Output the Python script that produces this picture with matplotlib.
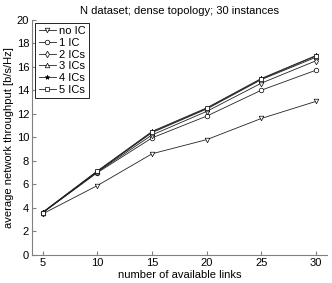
import matplotlib
matplotlib.use("Agg")
import matplotlib.pyplot as plt

plt.rcParams["font.family"] = ["Liberation Sans", "DejaVu Sans"]
plt.rcParams["font.size"] = 8

links = [5, 10, 15, 20, 25, 30]
no_ic = [3.5, 5.9, 8.6, 9.8, 11.6, 13.05]
ic1 = [3.6, 7.0, 9.95, 11.8, 14.0, 15.7]
ic2 = [3.6, 7.05, 10.2, 12.2, 14.6, 16.5]
ic3 = [3.6, 7.1, 10.4, 12.4, 14.9, 16.8]
ic4 = [3.65, 7.15, 10.5, 12.5, 15.0, 16.95]
ic5 = [3.6, 7.1, 10.45, 12.45, 14.95, 16.9]

series = [("no IC", no_ic, "v"), ("1 IC", ic1, "o"), ("2 ICs", ic2, "d"),
          ("3 ICs", ic3, "^"), ("4 ICs", ic4, "*"), ("5 ICs", ic5, "s")]

fig = plt.figure(figsize=(3.32, 2.83), dpi=100)
ax = fig.add_axes([0.096, 0.099, 0.889, 0.832])

for name, ys, m in series:
    mfc = "black" if m == "*" else "white"
    ax.plot(links, ys, color="#222222", lw=0.6, marker=m, ms=3.3, mfc=mfc,
            mec="black", mew=0.5, label=name)

ax.set_xlim(4, 31)
ax.set_ylim(0, 20)
ax.set_xticks(links)
ax.set_yticks(range(0, 21, 2))
ax.tick_params(direction="in", length=3, color="gray", width=0.8, pad=2)
for s in ["top", "right"]:
    ax.spines[s].set_visible(False)
for s in ["left", "bottom"]:
    ax.spines[s].set_color("gray")
    ax.spines[s].set_linewidth(0.8)

ax.set_xlabel("number of available links", labelpad=1.5)
ax.set_ylabel("average network throughput [b/s/Hz]", labelpad=2)
ax.set_title("N dataset; dense topology; 30 instances", fontsize=8, pad=4)

leg = ax.legend(loc="upper left", bbox_to_anchor=(0.0, 1.0), fancybox=False,
                edgecolor="black", framealpha=1, handlelength=1.6,
                handletextpad=0.2, labelspacing=0.15, borderpad=0.3,
                borderaxespad=0.3)
leg.get_frame().set_linewidth(0.6)

fig.savefig("out.png", dpi=100)
